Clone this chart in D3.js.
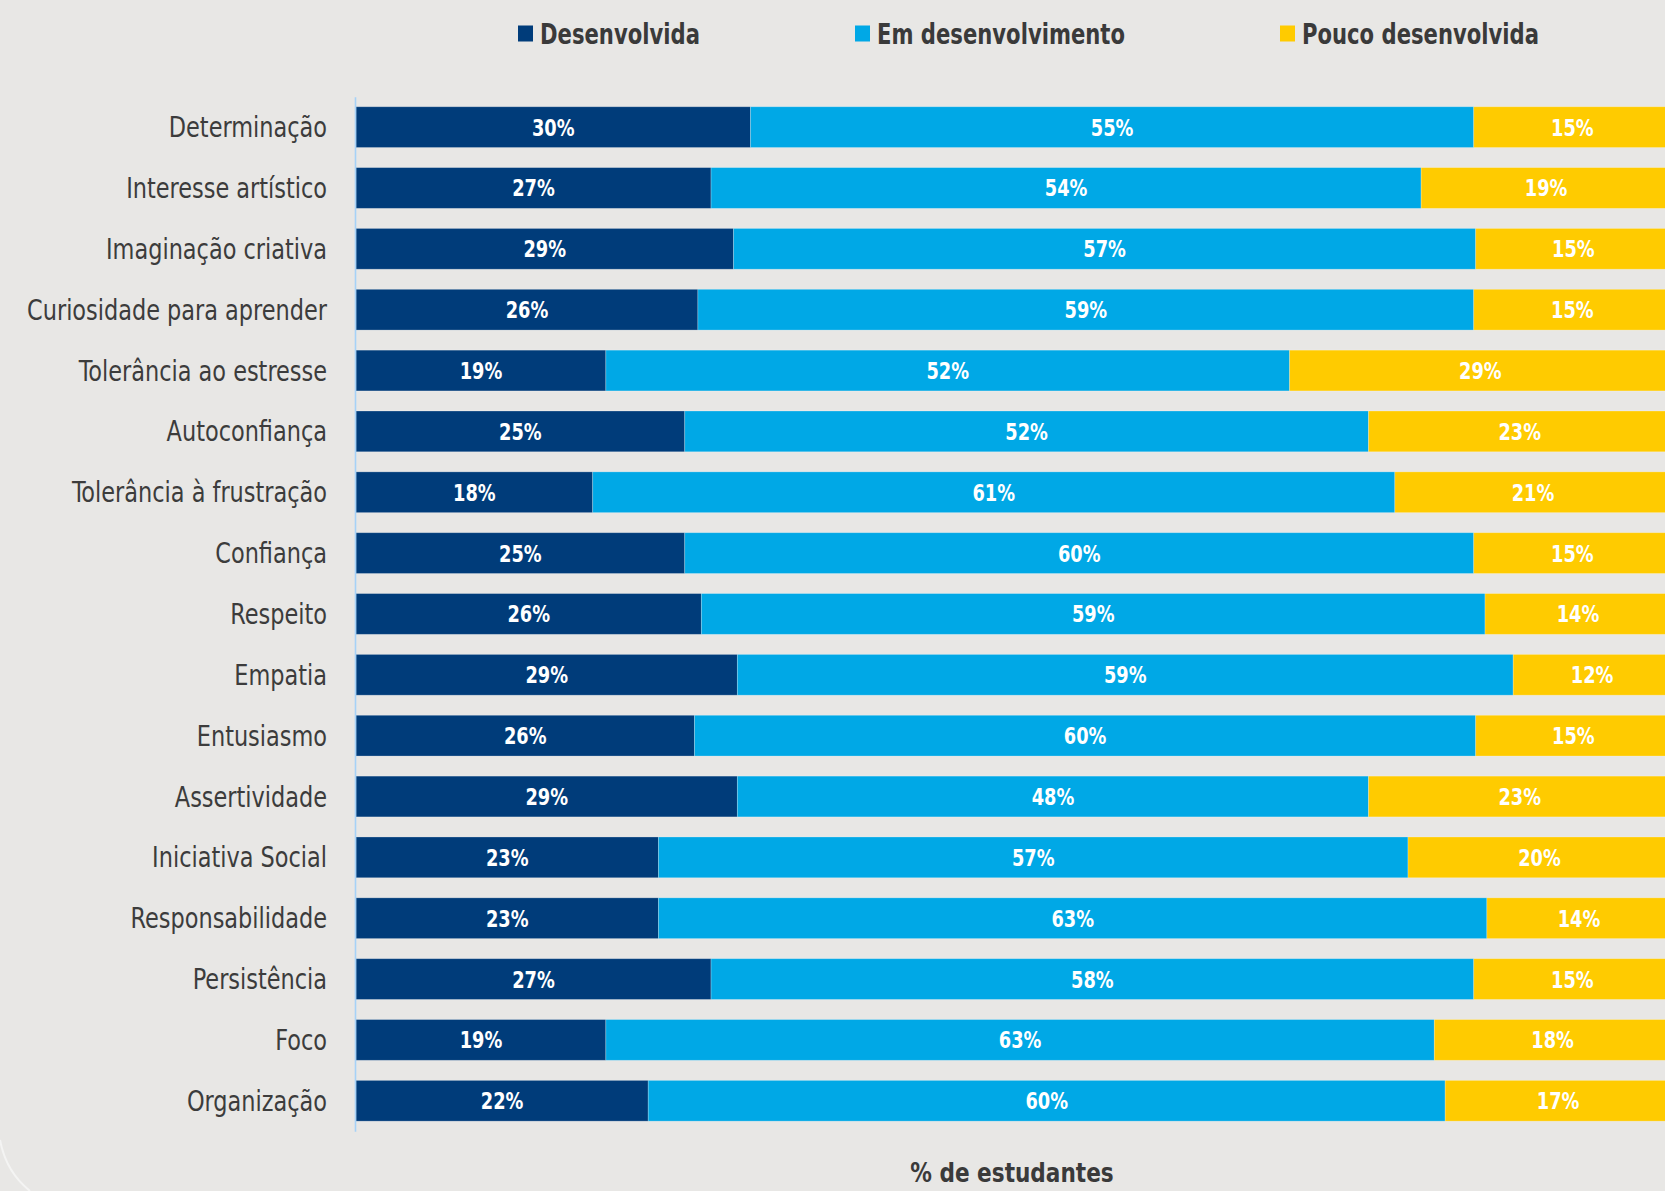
<!DOCTYPE html>
<html>
<head>
<meta charset="utf-8">
<script src="https://cdn.jsdelivr.net/npm/d3@7"></script>
<style>
  html, body { margin: 0; padding: 0; background: #e8e7e5; overflow: hidden; }
  svg { display: block; }
</style>
</head>
<body>
<svg id="chart" width="1665" height="1191"></svg>
<script>
const categories = ["Determinação","Interesse artístico","Imaginação criativa","Curiosidade para aprender","Tolerância ao estresse","Autoconfiança","Tolerância à frustração","Confiança","Respeito","Empatia","Entusiasmo","Assertividade","Iniciativa Social","Responsabilidade","Persistência","Foco","Organização"];
const desenvolvida   = [30,27,29,26,19,25,18,25,26,29,26,29,23,23,27,19,22];
const emDesenv       = [55,54,57,59,52,52,61,60,59,59,60,48,57,63,58,63,60];
const poucoDesenv    = [15,19,15,15,29,23,21,15,14,12,15,23,20,14,15,18,17];
const seriesNames = ["Desenvolvida","Em desenvolvimento","Pouco desenvolvida"];
const seriesColors = ["#003c7a","#00a8e6","#ffcb00"];
const axisTitle = "% de estudantes";

const FONT = "'DejaVu Sans Condensed','Liberation Sans Narrow','Roboto Condensed',sans-serif";

// horizontally condense a text element around its own anchor point
function condense(sel, sx) {
  sel.each(function() {
    const t = d3.select(this);
    const px = +t.attr("x") || 0, py = +t.attr("y") || 0;
    const prev = t.attr("transform") || "";
    t.attr("transform", prev + ` translate(${px},${py}) scale(${sx},1) translate(${-px},${-py})`);
  });
}

const svg = d3.select("#chart");
const W = 1665, H = 1191;
svg.append("rect").attr("width", W).attr("height", H).attr("fill", "#e8e7e5");
// faint card corner arc
svg.append("path").attr("d", "M0,1140 Q6,1172 30,1191").attr("fill","none").attr("stroke","#f4f4f3").attr("stroke-width",2);

const x = d3.scaleLinear().domain([0, 1]).range([356, 1671]);
const y = d3.scaleBand().domain(categories).range([96.7, 1131.2]).paddingInner(0.33).paddingOuter(0.165);

const stackData = categories.map((c, i) => ({cat: c, s0: desenvolvida[i], s1: emDesenv[i], s2: poucoDesenv[i]}));
const keys = ["s0","s1","s2"];
const stack = d3.stack().keys(keys).offset(d3.stackOffsetExpand)(stackData);

const g = svg.append("g");
stack.forEach((layer, k) => {
  const lg = g.append("g");
  lg.selectAll("rect").data(layer).join("rect")
    .attr("x", d => x(d[0]))
    .attr("y", d => y(d.data.cat))
    .attr("width", d => x(d[1]) - x(d[0]))
    .attr("height", y.bandwidth())
    .attr("fill", seriesColors[k])
    .attr("stroke", "rgba(255,255,255,0.3)")
    .attr("stroke-width", 0.8);
  lg.selectAll("text").data(layer).join("text")
    .attr("x", d => (x(d[0]) + x(d[1])) / 2)
    .attr("y", d => y(d.data.cat) + y.bandwidth() / 2)
    .attr("dy", "0.37em")
    .attr("text-anchor", "middle")
    .attr("fill", "#ffffff")
    .attr("font-family", FONT)
    .attr("font-weight", "bold")
    .attr("font-size", 23)
    .text(d => d.data[keys[k]] + "%")
    .call(condense, 0.86);
});

// y axis
const yAxis = d3.axisLeft(y).tickSize(0).tickPadding(28);
const ya = svg.append("g").attr("transform", "translate(355,0)").call(yAxis);
ya.select(".domain").attr("stroke", "#a6d2f7").attr("stroke-width", 1.6);
ya.selectAll(".tick text")
  .attr("font-family", FONT)
  .attr("font-size", 28)
  .attr("fill", "#3c3c3c")
  .attr("dy", "0.36em")
  .call(condense, 0.89);

// legend
const legendX = [518, 855, 1280];
const leg = svg.append("g");
seriesNames.forEach((n, i) => {
  leg.append("rect").attr("x", legendX[i]).attr("y", 25.5).attr("width", 15).attr("height", 16).attr("fill", seriesColors[i]);
  leg.append("text").attr("x", legendX[i] + 22).attr("y", 34).attr("dy", "0.36em")
    .attr("font-family", FONT).attr("font-weight", "bold").attr("font-size", 28)
    .attr("fill", "#3a3a3a").text(n)
    .call(condense, 0.84);
});

// axis title
svg.append("text").attr("x", 1012).attr("y", 1182).attr("text-anchor", "middle")
  .attr("font-family", FONT).attr("font-weight", "bold").attr("font-size", 27)
  .attr("fill", "#3a3a3a").text(axisTitle)
  .call(condense, 0.89);
</script>
</body>
</html>
